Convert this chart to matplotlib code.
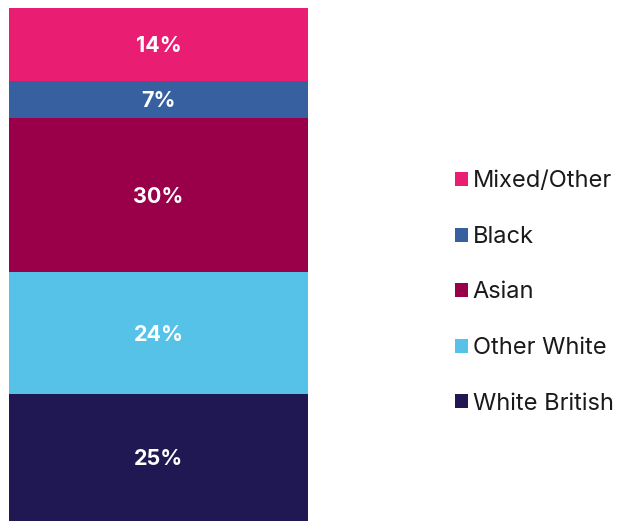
import matplotlib
matplotlib.use("Agg")
import matplotlib.pyplot as plt
from matplotlib.patches import Patch

plt.rcParams['font.family'] = ['Inter', 'DejaVu Sans']

categories = ["White British", "Other White", "Asian", "Black", "Mixed/Other"]
values = [24.8, 23.8, 30.0, 7.2, 14.2]
colors = ["#201852", "#56C2E8", "#990049", "#3760A0", "#E91E73"]

fig = plt.figure(figsize=(6.18, 5.22), dpi=100)
W, H = 618, 522
ax = fig.add_axes([9 / W, 1 - 521 / H, (308 - 9) / W, (521 - 8) / H])

bottom = 0
for cat, v, c in zip(categories, values, colors):
    ax.bar(0, v, bottom=bottom, width=1, color=c, edgecolor='none')
    ax.text(0, bottom + v / 2, f"{v:.0f}%", ha='center', va='center_baseline', color='white',
            fontsize=15.5, fontweight='bold')
    bottom += v

ax.set_xlim(-0.5, 0.5)
ax.set_ylim(0, sum(values))
ax.axis('off')

handles = [Patch(facecolor=c, edgecolor='none', label=cat) for cat, c in zip(categories, colors)][::-1]
fig.legend(handles=handles, loc='center left', bbox_to_anchor=(455 / W, 1 - 292.5 / H),
           frameon=False, fontsize=17, handlelength=0.55, handleheight=0.55,
           handletextpad=0.2, labelspacing=1.42, borderpad=0, borderaxespad=0,
           labelcolor='#1a1a1a')

fig.savefig("out.png", dpi=100)
